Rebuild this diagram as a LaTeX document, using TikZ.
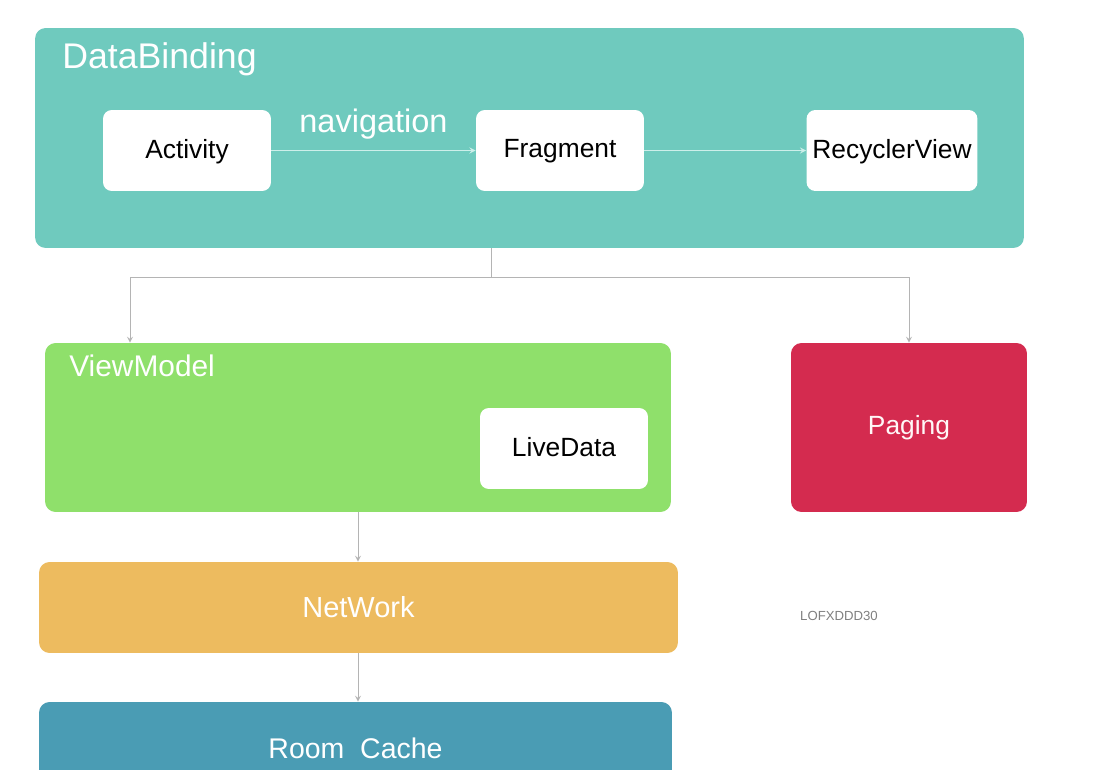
\documentclass[tikz,border=0pt]{standalone}
\usepackage{fontspec}
\setmainfont{Liberation Sans}
\usepackage{xcolor}
\usetikzlibrary{arrows, positioning}
\definecolor{bindteal}{HTML}{6FCABE}
\definecolor{vmgreen}{HTML}{8FE06B}
\definecolor{pagered}{HTML}{D42B4F}
\definecolor{netorange}{HTML}{EDBB5F}
\definecolor{roomblue}{HTML}{4A9CB4}
\definecolor{linkgray}{HTML}{B4B4B4}
\definecolor{navline}{HTML}{CDEFEA}
\tikzstyle{arrow} = [line width=0.5pt,->,>=stealth, draw=linkgray]
\tikzstyle{navarrow} = [line width=0.6pt,->,>=stealth, draw=navline]
\tikzstyle{panel} = [rectangle, rounded corners=6pt, inner sep=0pt]
\tikzstyle{card} = [rectangle, rounded corners=5pt, fill=white, minimum width=3.36cm, minimum height=1.62cm, text centered, text depth=0.35ex, font=\fontsize{15}{18}\selectfont]
\tikzstyle{heading} = [anchor=west, inner sep=0pt, text=white]

\begin{document}
\begin{tikzpicture}[x=0.02cm, y=-0.02cm]
        \useasboundingbox (0,0) rectangle (1103,770);
        \fill[white] (0,0) rectangle (1103,770);

        % Panels
        \node (binding) [panel, fill=bindteal, minimum width=19.78cm, minimum height=4.4cm] at (529.5,138) {};
        \node (vmodel) [panel, fill=vmgreen, minimum width=12.52cm, minimum height=3.38cm] at (358,427.5) {};
        \node (paging) [panel, fill=pagered, minimum width=4.72cm, minimum height=3.38cm, text=white!88!pink, font=\fontsize{15}{18}\selectfont] at (909,427.5) {Paging};
        \node (network) [panel, fill=netorange, minimum width=12.78cm, minimum height=1.82cm, text=white, font=\fontsize{16.5}{19}\selectfont] at (358.5,607.5) {NetWork};
        \begin{scope}
            \clip (0,0) rectangle (1103,770);
            \node (room) [panel, fill=roomblue, minimum width=12.66cm, minimum height=2.2cm, text=white] at (355.5,757) {};
        \end{scope}
        \node (roomtext) [text=white, font=\fontsize{16.2}{19}\selectfont] at (355.5,748) {Room~~Cache};

        % Titles
        \node (bindtitle) [heading, font=\fontsize{20.3}{24}\selectfont] at (62,59) {DataBinding};
        \node (vmtitle) [heading, font=\fontsize{17}{20}\selectfont] at (69,366) {ViewModel};

        % Cards
        \node (activity) [card] at (187,150.5) {Activity};
        \node (fragment) [card] at (560,150.5) {Fragment};
        \node (recycler) [card] at (892,150.5) {RecyclerView};
        \node (livedata) [card] at (564,448.5) {LiveData};

        \node (stamp) [text=gray, font=\fontsize{7.5}{8}\selectfont, inner sep=0pt] at (839,616) {LOFXDDD30};

        % Arrows
        \draw [navarrow] (activity) -- node[above=3pt, text=white, font=\fontsize{18.5}{22}\selectfont] {navigation} (fragment);
        \draw [navarrow] (fragment) -- (recycler);
        \coordinate (split) at (491,277);
        \coordinate (vmdrop) at (130,277);
        \draw [draw=linkgray, line width=0.5pt] (binding.south -| split) -- (split);
        \draw [arrow] (split) -- (vmdrop) -- (vmodel.north -| vmdrop);
        \draw [arrow] (split) -| (paging.north);
        \draw [arrow] (vmodel.south) -- (network.north -| vmodel.south);
        \draw [arrow] (network.south -| vmodel.south) -- (room.north -| vmodel.south);
    \end{tikzpicture}
\end{document}
